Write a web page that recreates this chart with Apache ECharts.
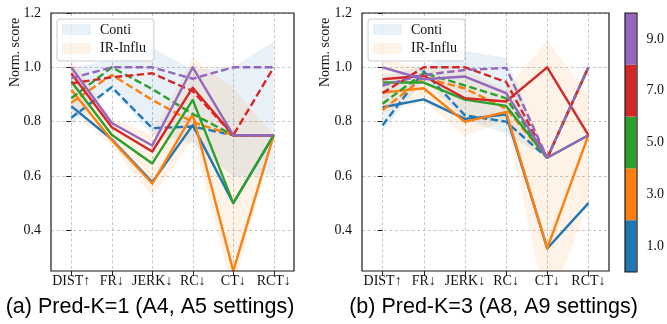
<!DOCTYPE html>
<html><head><meta charset="utf-8">
<script src="https://cdn.jsdelivr.net/npm/echarts@6/dist/echarts.min.js"></script>
<style>html,body{margin:0;padding:0;background:#fff}#c{width:667px;height:324px}</style>
</head><body><div id="c"></div>
<script>
const categories = ['DIST↑', 'FR↓', 'JERK↓', 'RC↓', 'CT↓', 'RCT↓'];
const levels = ['1.0', '3.0', '5.0', '7.0', '9.0'];
const yTicks = [0.4, 0.6, 0.8, 1.0, 1.2];
const subtitles = ['(a) Pred-K=1 (A4, A5 settings)', '(b) Pred-K=3 (A8, A9 settings)'];
const legendNames = ['Conti', 'IR-Influ'];
const yName = 'Norm. score';

// Pred-K=1 : IR-Influ (solid) per level
const k1IR_1 = [0.857, 0.735, 0.577, 0.787, 0.50, 0.75];
const k1IR_3 = [0.917, 0.732, 0.572, 0.827, 0.25, 0.75];
const k1IR_5 = [0.948, 0.752, 0.646, 0.880, 0.50, 0.75];
const k1IR_7 = [0.978, 0.779, 0.690, 0.925, 0.75, 0.75];
const k1IR_9 = [1.000, 0.795, 0.712, 1.000, 0.75, 0.75];
// Pred-K=1 : Conti (dashed)
const k1Conti_1 = [0.814, 0.927, 0.776, 0.782, 0.75, 0.75];
const k1Conti_3 = [0.870, 0.972, 0.880, 0.798, 0.75, 0.75];
const k1Conti_5 = [0.886, 1.000, 0.920, 0.828, 0.75, 0.75];
const k1Conti_7 = [0.941, 0.963, 0.978, 0.912, 0.75, 1.00];
const k1Conti_9 = [0.960, 1.000, 1.000, 0.958, 1.00, 1.00];
// Pred-K=3 : IR-Influ (solid)
const k3IR_1 = [0.853, 0.882, 0.810, 0.826, 0.333, 0.50];
const k3IR_3 = [0.907, 0.923, 0.799, 0.836, 0.333, 0.75];
const k3IR_5 = [0.944, 0.944, 0.881, 0.858, 0.667, 0.75];
const k3IR_7 = [0.956, 0.969, 0.886, 0.874, 1.000, 0.75];
const k3IR_9 = [1.000, 0.956, 0.966, 0.905, 0.667, 0.75];
// Pred-K=3 : Conti (dashed)
const k3Conti_1 = [0.787, 0.985, 0.823, 0.800, 0.667, 1.00];
const k3Conti_3 = [0.843, 0.962, 0.922, 0.848, 0.667, 1.00];
const k3Conti_5 = [0.866, 0.979, 0.933, 0.886, 0.667, 1.00];
const k3Conti_7 = [0.905, 1.000, 1.000, 0.946, 0.667, 1.00];
const k3Conti_9 = [0.933, 0.972, 0.990, 0.998, 0.667, 1.00];

const colors = ['#1f77b4', '#ff7f0e', '#2ca02c', '#d62728', '#9467bd'];
const bandColors = ['rgba(31,119,180,0.1)', 'rgba(255,127,14,0.1)'];
const SERIF = "'Liberation Serif', 'DejaVu Serif', serif";
const SANS = "'Liberation Sans', Arial, sans-serif";

const panels = [
  { ir: [k1IR_1, k1IR_3, k1IR_5, k1IR_7, k1IR_9], conti: [k1Conti_1, k1Conti_3, k1Conti_5, k1Conti_7, k1Conti_9] },
  { ir: [k3IR_1, k3IR_3, k3IR_5, k3IR_7, k3IR_9], conti: [k3Conti_1, k3Conti_3, k3Conti_5, k3Conti_7, k3Conti_9] }
];
const grids = [
  { left: 51, top: 13, width: 243, height: 258 },
  { left: 362, top: 13, width: 247, height: 258 }
];
const cbGrid = { left: 625, top: 13, width: 12, height: 259 };

function band(list) {
  // mean +/- 2 std across levels
  const lo = [], hi = [];
  for (let i = 0; i < categories.length; i++) {
    const vals = list.map(s => s[i]);
    const m = vals.reduce((a, b) => a + b, 0) / vals.length;
    const sd = Math.sqrt(vals.reduce((a, b) => a + (b - m) * (b - m), 0) / vals.length);
    lo.push(m - 2 * sd); hi.push(m + 2 * sd);
  }
  return { lo, hi };
}
const pts = arr => arr.map((v, i) => [i, v]);

const series = [];
panels.forEach((p, gi) => {
  [p.conti, p.ir].forEach((list, bi) => {
    const b = band(list);
    series.push({
      type: 'custom', xAxisIndex: gi, yAxisIndex: gi, silent: true, z: 1, clip: true,
      data: [[0, b.lo[0]]],
      renderItem: (params, api) => {
        const up = b.hi.map((v, i) => api.coord([i, v]));
        const dn = b.lo.map((v, i) => api.coord([i, v])).reverse();
        const cs = params.coordSys;
        return {
          type: 'polygon', shape: { points: up.concat(dn) },
          style: { fill: bandColors[bi] },
          clipPath: { type: 'rect', shape: { x: cs.x, y: cs.y, width: cs.width, height: cs.height } }
        };
      }
    });
  });
  colors.forEach((c, li) => {
    series.push({ type: 'line', xAxisIndex: gi, yAxisIndex: gi, data: pts(p.ir[li]), symbol: 'none',
      lineStyle: { color: c, width: 2.4, join: 'round' }, itemStyle: { color: c }, z: 3 });
    series.push({ type: 'line', xAxisIndex: gi, yAxisIndex: gi, data: pts(p.conti[li]), symbol: 'none',
      lineStyle: { color: c, width: 2.4, type: [7.5, 3.5], join: 'round' }, itemStyle: { color: c }, z: 3 });
  });
});
// colorbar
series.push({ type: 'bar', xAxisIndex: 2, yAxisIndex: 2, barWidth: '100%', silent: true,
  data: levels.map((l, i) => ({ value: 1, itemStyle: { color: colors[i] } })) });

const xIdx = categories.map((c, i) => i);
const xAxis = grids.map((g, gi) => ({
  type: 'value', gridIndex: gi, min: -0.5, max: 5.5,
  axisLine: { show: false },
  axisTick: { show: true, length: 5, customValues: xIdx, lineStyle: { color: '#222' } },
  axisLabel: { customValues: xIdx, formatter: v => categories[Math.round(v)], fontFamily: SERIF, fontSize: 14, color: '#111', margin: 3 },
  splitLine: { show: true, lineStyle: { color: '#b8b8b8', type: [3, 2.5], width: 0.8 } }
}));
xAxis.push({ type: 'value', gridIndex: 2, min: 0, max: 1, show: false });
const yAxis = grids.map((g, gi) => ({
  type: 'value', gridIndex: gi, min: 0.25, max: 1.2,
  axisLine: { show: false },
  axisTick: { show: true, length: 5, customValues: yTicks, lineStyle: { color: '#222' } },
  axisLabel: { customValues: yTicks, formatter: v => v.toFixed(1), fontFamily: SERIF, fontSize: 14, color: '#111', margin: 10 },
  splitLine: { show: true, lineStyle: { color: '#b8b8b8', type: [3, 2.5], width: 0.8 } }
}));
yAxis.push({ type: 'category', gridIndex: 2, data: levels, position: 'right',
  axisLine: { show: false }, axisTick: { show: true, alignWithLabel: true, length: 5, lineStyle: { color: '#222' } },
  axisLabel: { fontFamily: SERIF, fontSize: 14, color: '#111', margin: 10 } });

const graphic = [];
grids.concat([cbGrid]).forEach(g => {
  graphic.push({ type: 'rect', z: 100, shape: { x: g.left, y: g.top, width: g.width, height: g.height },
    style: { fill: 'none', stroke: '#1a1a1a', lineWidth: 1.2 } });
});
grids.forEach((g, gi) => {
  const lx = g.left + 6;
  graphic.push({ type: 'rect', z: 90, shape: { x: lx, y: 19, width: 97, height: 42, r: 3 },
    style: { fill: 'rgba(255,255,255,0.8)', stroke: '#cccccc', lineWidth: 1 } });
  legendNames.forEach((n, i) => {
    graphic.push({ type: 'rect', z: 91, shape: { x: lx + 5, y: 24 + i * 19, width: 29, height: 11 },
      style: { fill: bandColors[i] } });
    graphic.push({ type: 'text', z: 91, x: lx + 43, y: 30 + i * 18.5,
      style: { text: n, font: '14px ' + SERIF, fill: '#111', textVerticalAlign: 'middle' } });
  });
  graphic.push({ type: 'text', z: 91, x: gi === 0 ? 15 : 325.5, y: 52.5, rotation: Math.PI / 2,
    style: { text: yName, font: '14px ' + SERIF, fill: '#111', textAlign: 'center', textVerticalAlign: 'middle' } });
});
graphic.push({ type: 'text', x: 150, y: 307, style: { text: subtitles[0], font: '21.5px ' + SANS, fill: '#000', textAlign: 'center', textVerticalAlign: 'middle' } });
graphic.push({ type: 'text', x: 493.5, y: 307, style: { text: subtitles[1], font: '21.5px ' + SANS, fill: '#000', textAlign: 'center', textVerticalAlign: 'middle' } });

const chart = echarts.init(document.getElementById('c'), null, { renderer: 'canvas' });
chart.setOption({
  animation: false,
  backgroundColor: '#fff',
  grid: [grids[0], grids[1], cbGrid],
  xAxis, yAxis, series, graphic
});
</script></body></html>
